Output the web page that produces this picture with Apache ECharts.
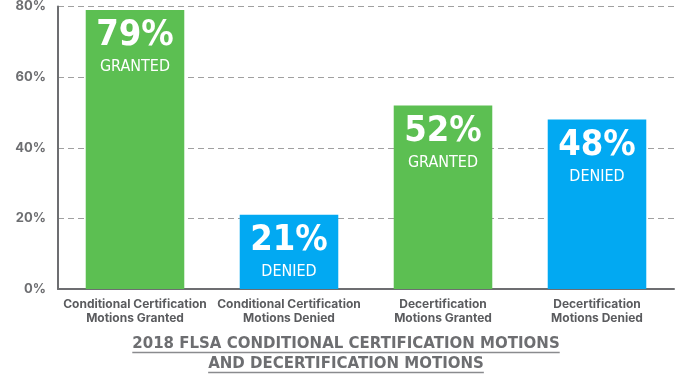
<!DOCTYPE html>
<html><head><meta charset="utf-8">
<script src="https://cdn.jsdelivr.net/npm/echarts@6/dist/echarts.min.js"></script>
<style>html,body{margin:0;padding:0;background:#fff}#c{width:692px;height:379px}</style>
</head><body><div id="c"></div>
<script>
const categories = ['Conditional Certification\nMotions Granted', 'Conditional Certification\nMotions Denied', 'Decertification\nMotions Granted', 'Decertification\nMotions Denied'];
const values = [79, 21, 52, 48];
const outcomes = ['GRANTED', 'DENIED', 'GRANTED', 'DENIED'];
const yTicks = [0, 20, 40, 60, 80];
const titleLines = ['2018 FLSA CONDITIONAL CERTIFICATION MOTIONS', 'AND DECERTIFICATION MOTIONS'];

const colorFor = { GRANTED: '#5CBF52', DENIED: '#02A9F2' };
const titleFont = 'bold 15px "DejaVu Sans"';
const cv = document.createElement('canvas').getContext('2d');
cv.font = titleFont;
const W = 692, titleTop = 337, titleLH = 20;
const graphics = [];
titleLines.forEach((t, i) => {
  const w = cv.measureText(t).width;
  const y = titleTop + i * titleLH;
  graphics.push({ type: 'text', left: 'center', top: y, style: { text: t, fill: '#6d6e71', font: titleFont } });
  graphics.push({ type: 'line', shape: { x1: (W - w) / 2, y1: y + 15.5, x2: (W + w) / 2, y2: y + 15.5 }, style: { stroke: '#8a8b8e', lineWidth: 1.5 } });
});

const chart = echarts.init(document.getElementById('c'));
chart.setOption({
  animation: false,
  grid: { left: 58, right: 18, top: 6, bottom: 90 },
  xAxis: {
    type: 'category', data: categories,
    axisLine: { lineStyle: { color: '#6d6e71', width: 2 } },
    axisTick: { show: false },
    axisLabel: { interval: 0, color: '#5a5b5e', fontFamily: 'Inter', fontWeight: 'bold', fontSize: 12, lineHeight: 14, margin: 8 }
  },
  yAxis: {
    type: 'value', min: yTicks[0], max: yTicks[yTicks.length - 1], interval: 20,
    axisLine: { show: true, lineStyle: { color: '#6d6e71', width: 2 } },
    axisTick: { show: false },
    splitLine: { lineStyle: { color: '#a0a0a0', type: [6, 4], width: 1 } },
    axisLabel: { color: '#6d6e71', fontFamily: 'Inter', fontWeight: 'bold', fontSize: 13, formatter: '{value}%', margin: 12 }
  },
  series: [{
    type: 'bar', barWidth: '64%',
    data: values.map((v, i) => ({ value: v, itemStyle: { color: colorFor[outcomes[i]] } })),
    label: {
      show: true, position: 'insideTop', distance: 5,
      formatter: p => '{n|' + p.value + '%}\n{t|' + outcomes[p.dataIndex] + '}',
      rich: {
        n: { color: '#fff', fontFamily: 'DejaVu Sans Condensed', fontWeight: 'bold', fontSize: 36, lineHeight: 42 },
        t: { color: '#fff', fontFamily: 'DejaVu Sans Condensed', fontWeight: 'normal', fontSize: 16, lineHeight: 20 }
      }
    }
  }],
  graphic: graphics
});
</script></body></html>
